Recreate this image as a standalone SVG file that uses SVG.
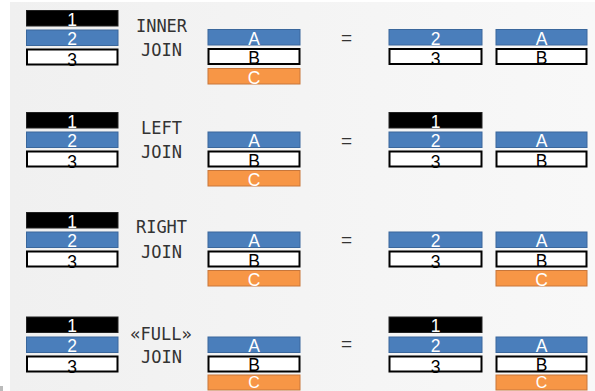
<svg xmlns="http://www.w3.org/2000/svg" width="595" height="391" viewBox="0 0 595 391">
<defs>
<linearGradient id="bg" x1="0" y1="0" x2="1" y2="0">
<stop offset="0" stop-color="#f0f0f0"/>
<stop offset="1" stop-color="#f8f8f8"/>
</linearGradient>
</defs>
<style>
.k{fill:#000;stroke:#222;stroke-width:1}
.b{fill:#4a7ebb;stroke:#3a679c;stroke-width:1}
.w{fill:#fff;stroke:#000;stroke-width:2}
.o{fill:#f79646;stroke:#c8763a;stroke-width:1}
.t{font-family:"Liberation Sans",Arial,sans-serif;font-size:17.5px;text-anchor:middle}
.tl{fill:#fff}
.td{fill:#000}
.lbl{font-family:"DejaVu Sans Mono",monospace;font-size:17px;fill:#333;text-anchor:middle}
.eq{font-family:"Liberation Sans",Arial,sans-serif;font-size:19px;fill:#333;text-anchor:middle}
</style>
<rect x="0" y="0" width="595" height="391" fill="#fff"/>
<rect x="10" y="2" width="585" height="389" fill="url(#bg)"/>
<rect x="0" y="386" width="3" height="5" fill="#bbb"/>

<!-- Row 1: INNER JOIN -->
<g id="inner-left">
<rect class="k" x="26.5" y="10.5" width="91.5" height="15.5"/><text class="t tl" x="72" y="25.5">1</text>
<rect class="b" x="26.5" y="30" width="91.5" height="15.5"/><text class="t tl" x="72" y="45">2</text>
<rect class="w" x="27" y="49.5" width="90.5" height="15"/><text class="t td" x="72" y="65.5">3</text>
</g>
<g id="inner-label"><text class="lbl" x="161.5" y="32">INNER</text><text class="lbl" x="161.5" y="56">JOIN</text></g>
<g id="inner-right">
<rect class="b" x="208" y="29.5" width="92" height="15.5"/><text class="t tl" x="254" y="44.5">A</text>
<rect class="w" x="208.5" y="49" width="91" height="15"/><text class="t td" x="254" y="64">B</text>
<rect class="o" x="208" y="68.5" width="92" height="15.5"/><text class="t tl" x="254" y="83.5">C</text>
</g>
<g id="inner-eq"><text class="eq" x="346.5" y="44">=</text></g>
<g id="inner-result">
<rect class="b" x="389" y="29.5" width="93" height="15.5"/><text class="t tl" x="435.5" y="44.5">2</text>
<rect class="w" x="389.5" y="49" width="92" height="15"/><text class="t td" x="435.5" y="65">3</text>
<rect class="b" x="496" y="29.5" width="91" height="15.5"/><text class="t tl" x="541.5" y="44.5">A</text>
<rect class="w" x="496.5" y="49" width="90" height="15"/><text class="t td" x="541.5" y="64">B</text>
</g>

<!-- Row 2: LEFT JOIN -->
<g id="left-left">
<rect class="k" x="26.5" y="112.5" width="91.5" height="15.5"/><text class="t tl" x="72" y="127.5">1</text>
<rect class="b" x="26.5" y="132" width="91.5" height="15.5"/><text class="t tl" x="72" y="147">2</text>
<rect class="w" x="27" y="151.5" width="90.5" height="15"/><text class="t td" x="72" y="167.5">3</text>
</g>
<g id="left-label"><text class="lbl" x="161.5" y="134">LEFT</text><text class="lbl" x="161.5" y="158">JOIN</text></g>
<g id="left-right">
<rect class="b" x="208" y="132" width="92" height="15.5"/><text class="t tl" x="254" y="147">A</text>
<rect class="w" x="208.5" y="151.5" width="91" height="15"/><text class="t td" x="254" y="166.5">B</text>
<rect class="o" x="208" y="170.5" width="92" height="15.5"/><text class="t tl" x="254" y="185.5">C</text>
</g>
<g id="left-eq"><text class="eq" x="346.5" y="147">=</text></g>
<g id="left-result">
<rect class="k" x="389" y="112.5" width="93" height="15.5"/><text class="t tl" x="435.5" y="127.5">1</text>
<rect class="b" x="389" y="132" width="93" height="15.5"/><text class="t tl" x="435.5" y="147">2</text>
<rect class="w" x="389.5" y="151.5" width="92" height="15"/><text class="t td" x="435.5" y="167.5">3</text>
<rect class="b" x="496" y="132" width="91" height="15.5"/><text class="t tl" x="541.5" y="147">A</text>
<rect class="w" x="496.5" y="151.5" width="90" height="15"/><text class="t td" x="541.5" y="166.5">B</text>
</g>

<!-- Row 3: RIGHT JOIN -->
<g id="right-left">
<rect class="k" x="26.5" y="212.5" width="91.5" height="15.5"/><text class="t tl" x="72" y="227.5">1</text>
<rect class="b" x="26.5" y="232" width="91.5" height="15.5"/><text class="t tl" x="72" y="247">2</text>
<rect class="w" x="27" y="251.5" width="90.5" height="15"/><text class="t td" x="72" y="267.5">3</text>
</g>
<g id="right-label"><text class="lbl" x="161.5" y="233">RIGHT</text><text class="lbl" x="161.5" y="258">JOIN</text></g>
<g id="right-right">
<rect class="b" x="208" y="232" width="92" height="15.5"/><text class="t tl" x="254" y="247">A</text>
<rect class="w" x="208.5" y="251.5" width="91" height="15"/><text class="t td" x="254" y="266.5">B</text>
<rect class="o" x="208" y="270.5" width="92" height="15.5"/><text class="t tl" x="254" y="285.5">C</text>
</g>
<g id="right-eq"><text class="eq" x="346.5" y="246">=</text></g>
<g id="right-result">
<rect class="b" x="389" y="232" width="93" height="15.5"/><text class="t tl" x="435.5" y="247">2</text>
<rect class="w" x="389.5" y="251.5" width="92" height="15"/><text class="t td" x="435.5" y="267.5">3</text>
<rect class="b" x="496" y="232" width="91" height="15.5"/><text class="t tl" x="541.5" y="247">A</text>
<rect class="w" x="496.5" y="251.5" width="90" height="15"/><text class="t td" x="541.5" y="266.5">B</text>
<rect class="o" x="496" y="270.5" width="91" height="15.5"/><text class="t tl" x="541.5" y="285.5">C</text>
</g>

<!-- Row 4: FULL JOIN -->
<g id="full-left">
<rect class="k" x="26.5" y="317" width="91.5" height="15.5"/><text class="t tl" x="72" y="332">1</text>
<rect class="b" x="26.5" y="337" width="91.5" height="15.5"/><text class="t tl" x="72" y="352">2</text>
<rect class="w" x="27" y="356.5" width="90.5" height="15"/><text class="t td" x="72" y="372.5">3</text>
</g>
<g id="full-label"><text class="lbl" x="161" y="340">«FULL»</text><text class="lbl" x="161.5" y="363">JOIN</text></g>
<g id="full-right">
<rect class="b" x="208" y="337" width="92" height="15.5"/><text class="t tl" x="254" y="352">A</text>
<rect class="w" x="208.5" y="356.5" width="91" height="15"/><text class="t td" x="254" y="371">B</text>
<rect class="o" x="208" y="375" width="92" height="15"/><text class="t tl" x="254" y="387.5" style="font-size:16px">C</text>
</g>
<g id="full-eq"><text class="eq" x="346.5" y="350">=</text></g>
<g id="full-result">
<rect class="k" x="389" y="317" width="93" height="15.5"/><text class="t tl" x="435.5" y="332">1</text>
<rect class="b" x="389" y="337" width="93" height="15.5"/><text class="t tl" x="435.5" y="352">2</text>
<rect class="w" x="389.5" y="356.5" width="92" height="15"/><text class="t td" x="435.5" y="372.5">3</text>
<rect class="b" x="496" y="337" width="91" height="15.5"/><text class="t tl" x="541.5" y="352">A</text>
<rect class="w" x="496.5" y="356.5" width="90" height="15"/><text class="t td" x="541.5" y="371">B</text>
<rect class="o" x="496" y="375" width="91" height="15"/><text class="t tl" x="541.5" y="387.5" style="font-size:16px">C</text>
</g>
<g id="connectors"></g>
</svg>
